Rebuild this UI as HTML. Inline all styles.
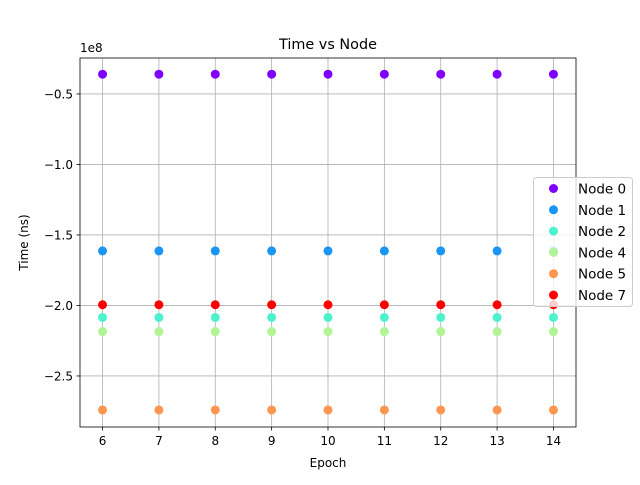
<!DOCTYPE html>
<html><head><meta charset="utf-8"><style>
body{margin:0;background:#fff;}
svg text{font-family:"DejaVu Sans","Liberation Sans",sans-serif;fill:#000;}
</style></head><body>
<svg id="chart" width="640" height="480" xmlns="http://www.w3.org/2000/svg">
<rect width="640" height="480" fill="#fff"/>
<g id="grid"></g><g id="marks"></g><g id="axes"></g><g id="legend"></g>
</svg>
<script>
const epochs=[6,7,8,9,10,11,12,13,14];
const seriesNames=["Node 0","Node 1","Node 2","Node 4","Node 5","Node 7"];
const seriesColors=["#8000ff","#1996f3","#4cf2ce","#b2f396","#ff954e","#ff0000"];
const node0=[-0.36,-0.36,-0.36,-0.36,-0.36,-0.36,-0.36,-0.36,-0.36];
const node1=[-1.613,-1.613,-1.613,-1.613,-1.613,-1.613,-1.613,-1.613,-1.613];
const node2=[-2.085,-2.085,-2.085,-2.085,-2.085,-2.085,-2.085,-2.085,-2.085];
const node4=[-2.185,-2.185,-2.185,-2.185,-2.185,-2.185,-2.185,-2.185,-2.185];
const node5=[-2.741,-2.741,-2.741,-2.741,-2.741,-2.741,-2.741,-2.741,-2.741];
const node7=[-1.995,-1.995,-1.995,-1.995,-1.995,-1.995,-1.995,-1.995,-1.995];
const seriesValues=[node0,node1,node2,node4,node5,node7];
const xTicks=[6,7,8,9,10,11,12,13,14];
const yTicks=[-0.5,-1.0,-1.5,-2.0,-2.5];
const yTickLabels=["−0.5","−1.0","−1.5","−2.0","−2.5"];

const NS="http://www.w3.org/2000/svg";
const L=80,R=576,T=58,B=427;
const xMin=5.6,xMax=14.4;
const yMax=-0.245,yMin=-2.862;
const xs=v=>L+(v-xMin)/(xMax-xMin)*(R-L);
const ys=v=>T+(yMax-v)/(yMax-yMin)*(B-T);
function mk(tag,attrs,parent,text){const e=document.createElementNS(NS,tag);for(const k in attrs)e.setAttribute(k,attrs[k]);if(text!==undefined)e.textContent=text;parent.appendChild(e);return e;}
const grid=document.getElementById('grid'),marks=document.getElementById('marks'),axes=document.getElementById('axes'),leg=document.getElementById('legend');
xTicks.forEach(t=>{const x=xs(t);
 const g=mk('line',{x1:x,x2:x,y1:T,y2:B,stroke:'#b0b0b0','stroke-width':0.8},grid);
 
 
 mk('line',{x1:x,x2:x,y1:B,y2:B+3.5,stroke:'#000','stroke-width':0.8},axes);
 const tx=mk('text',{x:x,y:B+18,'font-size':12,'text-anchor':'middle'},axes,String(t));
 
 
});
yTicks.forEach((t,i)=>{const y=ys(t);
 const g=mk('line',{x1:L,x2:R,y1:y,y2:y,stroke:'#b0b0b0','stroke-width':0.8},grid);
 
 
 mk('line',{x1:L-3.5,x2:L,y1:y,y2:y,stroke:'#000','stroke-width':0.8},axes);
 const tx=mk('text',{x:L-7,y:y+4.5,'font-size':12,'text-anchor':'end'},axes,yTickLabels[i]);
 
 
});
seriesValues.forEach((vals,si)=>{vals.forEach((v,i)=>{
 const c=mk('circle',{cx:xs(epochs[i]),cy:ys(v),r:4.5,fill:seriesColors[si]},marks);
 
 
});});
const frame=mk('rect',{x:L,y:T,width:R-L,height:B-T,fill:'none',stroke:'#000','stroke-width':0.8},axes);


const title=mk('text',{x:(L+R)/2,y:49,'font-size':14.4,'text-anchor':'middle'},axes,'Time vs Node');


const xl=mk('text',{x:(L+R)/2,y:467,'font-size':12,'text-anchor':'middle'},axes,'Epoch');


const yl=mk('text',{x:28,y:(T+B)/2,'font-size':12,'text-anchor':'middle',transform:'rotate(-90 28 '+((T+B)/2)+')'},axes,'Time (ns)');


const off=mk('text',{x:L,y:52,'font-size':12},axes,'1e8');


const lb=mk('rect',{x:533.5,y:177.5,width:99,height:129,rx:3,fill:'#fff','fill-opacity':0.8,stroke:'#ccc','stroke-width':1},leg);


seriesNames.forEach((n,i)=>{const y=188.5+i*21.3;
 const c=mk('circle',{cx:553.5,cy:y,r:4.5,fill:seriesColors[i]},leg);
 
 
 const t=mk('text',{x:578,y:y+5,'font-size':13.5},leg,n);
 
 
});
</script>
</body></html>
